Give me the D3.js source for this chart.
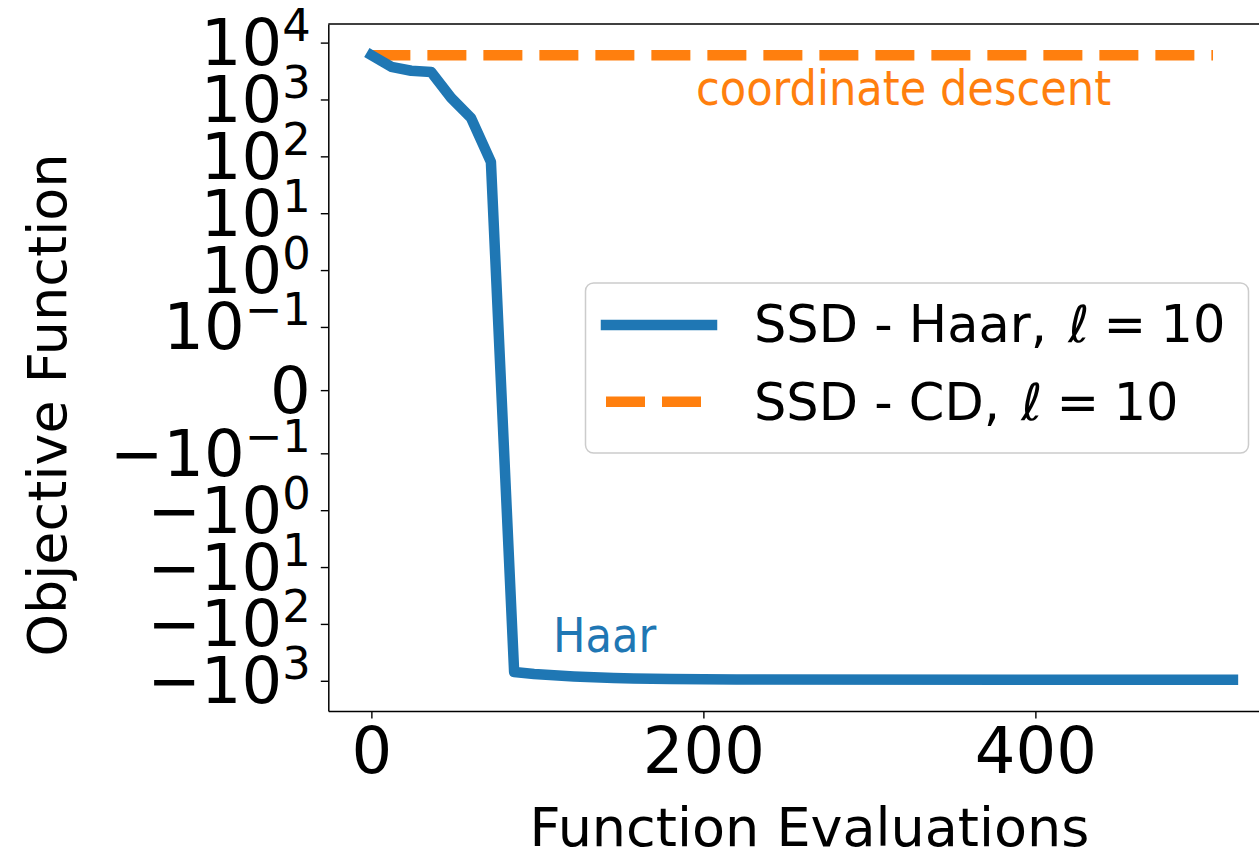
<!DOCTYPE html>
<html>
<head>
<meta charset="utf-8">
<script src="https://cdn.jsdelivr.net/npm/d3@7"></script>
<style>
  html, body { margin: 0; padding: 0; background: #fff; }
  svg { display: block; font-family: "DejaVu Sans", sans-serif; }
  .cond { font-family: "DejaVu Sans Condensed", "DejaVu Sans", sans-serif; font-stretch: condensed; }
</style>
</head>
<body>
<svg id="chart" width="1259" height="856"></svg>
<script>
// SSD with Haar directions: objective value against number of function evaluations
const haarEvals     = [0, 12, 24, 36, 48, 60, 72, 86, 98, 110, 122, 134, 146, 158, 180, 220, 519];
const haarObjective = [6000, 3750, 3200, 3050, 1070, 475, 80, -700, -760, -800, -840, -870, -890, -910, -930, -950, -960];

// SSD with coordinate descent: stays at its starting value
const cdEvals     = [0, 507];
const cdObjective = [6000, 6000];

const xTickValues = [0, 200, 400];
const yTickValues = [1e4, 1e3, 1e2, 1e1, 1e0, 1e-1, 0, -1e-1, -1e0, -1e1, -1e2, -1e3];
// [mantissa, exponent] for each y tick
const yTickLabels = [
  ["10", "4"], ["10", "3"], ["10", "2"], ["10", "1"], ["10", "0"], ["10", "\u22121"],
  ["0", ""],
  ["\u221210", "\u22121"], ["\u221210", "0"], ["\u221210", "1"], ["\u221210", "2"], ["\u221210", "3"]
];

const legendLabels = ["SSD - Haar, ", "SSD - CD, "];
const seriesColors = ["#1f77b4", "#ff7f0e"];

// symmetric log transform (linear inside +-0.1, log10 outside), in units of the threshold
const LINTHRESH = 0.1;
const LINSCALE = 1 / (1 - 1 / 10);
function symlog(v) {
  const a = Math.abs(v);
  if (a <= LINTHRESH) return (v / LINTHRESH) * LINSCALE;
  return Math.sign(v) * (LINSCALE + Math.log10(a / LINTHRESH));
}

const plot = { left: 328.3, top: 24, bottom: 711, right: 1276 };

const svg = d3.select("#chart");

// x scale with 5% margins around the data range
const xMin = 0, xMax = d3.max(haarEvals);
const xPad = (xMax - xMin) * 0.05;
const x = d3.scaleLinear().domain([xMin - xPad, xMax + xPad]).range([plot.left, plot.right]);

// y scale: linear over symlog-transformed values, 5% margins
const tVals = haarObjective.concat(cdObjective).map(symlog);
const tMin = d3.min(tVals), tMax = d3.max(tVals);
const tPad = (tMax - tMin) * 0.05;
const yT = d3.scaleLinear().domain([tMin - tPad, tMax + tPad]).range([plot.bottom, plot.top]);
const y = v => yT(symlog(v));

// axes
const xAxis = d3.axisBottom(x).tickValues(xTickValues).tickSize(7.5).tickSizeOuter(0);
const gx = svg.append("g").attr("transform", `translate(0,${plot.bottom})`).call(xAxis);
gx.selectAll("text")
  .attr("dy", null).attr("y", 61.5)
  .attr("font-size", 64).attr("fill", "#000")
  .attr("font-family", "DejaVu Sans");

const yAxis = d3.axisLeft(yT).tickValues(yTickValues.map(symlog)).tickSize(7.5).tickPadding(10).tickSizeOuter(0).tickFormat("");
const gy = svg.append("g").attr("transform", `translate(${plot.left},0)`).call(yAxis);
gy.selectAll(".tick text").each(function (d, i) {
  const t = d3.select(this)
    .attr("dy", null).attr("y", 22)
    .attr("font-size", 64).attr("fill", "#000")
    .attr("font-family", "DejaVu Sans")
    .attr("text-anchor", "end");
  const [base, exp] = yTickLabels[i];
  t.append("tspan").text(base);
  if (exp) t.append("tspan").attr("font-size", 44.8).attr("dy", -24).text(exp);
});

[gx, gy].forEach(g => {
  g.select(".domain").attr("stroke", "#000").attr("stroke-width", 1.5);
  g.selectAll(".tick line").attr("stroke", "#000").attr("stroke-width", 1.4);
});

// top spine
svg.append("line")
  .attr("x1", plot.left).attr("x2", plot.right)
  .attr("y1", plot.top).attr("y2", plot.top)
  .attr("stroke", "#000").attr("stroke-width", 1.5);
// right spine
svg.append("line")
  .attr("x1", plot.right).attr("x2", plot.right)
  .attr("y1", plot.top).attr("y2", plot.bottom)
  .attr("stroke", "#000").attr("stroke-width", 1.5);

// series
const line = d3.line().x(d => x(d[0])).y(d => y(d[1]));

svg.append("path")
  .datum(cdEvals.map((e, i) => [e, cdObjective[i]]))
  .attr("d", line)
  .attr("fill", "none")
  .attr("stroke", seriesColors[1])
  .attr("stroke-width", 10.5)
  .attr("stroke-dasharray", "39 17")
  .attr("stroke-linecap", "butt");

svg.append("path")
  .datum(haarEvals.map((e, i) => [e, haarObjective[i]]))
  .attr("d", line)
  .attr("fill", "none")
  .attr("stroke", seriesColors[0])
  .attr("stroke-width", 10.5)
  .attr("stroke-linejoin", "round")
  .attr("stroke-linecap", "square");

// annotations
svg.append("text").attr("class", "cond")
  .attr("x", 696).attr("y", 105)
  .attr("font-size", 48).attr("fill", seriesColors[1])
  .text("coordinate descent");

svg.append("text").attr("class", "cond")
  .attr("x", 553).attr("y", 651.7)
  .attr("font-size", 48).attr("fill", seriesColors[0])
  .text("Haar");

// axis labels
svg.append("text")
  .attr("x", 809.5).attr("y", 846)
  .attr("text-anchor", "middle")
  .attr("font-size", 54).attr("fill", "#000")
  .text("Function Evaluations");

svg.append("text")
  .attr("transform", "translate(66,405) rotate(-90)")
  .attr("text-anchor", "middle")
  .attr("font-size", 54).attr("fill", "#000")
  .text("Objective Function");

// legend
const lg = svg.append("g");
lg.append("rect")
  .attr("x", 585.5).attr("y", 283).attr("width", 663).attr("height", 170)
  .attr("rx", 8).attr("ry", 8)
  .attr("fill", "#fff").attr("fill-opacity", 0.8)
  .attr("stroke", "#cccccc").attr("stroke-width", 1.5);

const rowY = [325, 401.7];
const textY = [341.7, 420];
legendLabels.forEach((lab, i) => {
  lg.append("line")
    .attr("x1", 606).attr("x2", 712)
    .attr("y1", rowY[i]).attr("y2", rowY[i])
    .attr("stroke", seriesColors[i])
    .attr("stroke-width", 10.5)
    .attr("stroke-linecap", i === 0 ? "square" : "butt")
    .attr("stroke-dasharray", i === 0 ? null : "39 17");
  const t = lg.append("text")
    .attr("x", 754).attr("y", textY[i])
    .attr("font-size", 51).attr("fill", "#000");
  t.append("tspan").text(lab);
  t.append("tspan").attr("dx", "0.1em").attr("font-style", "italic").text("\u2113");
  t.append("tspan").attr("dx", "0.28em").text("=");
  t.append("tspan").attr("dx", "0.28em").text("10");
});
</script>
</body>
</html>
